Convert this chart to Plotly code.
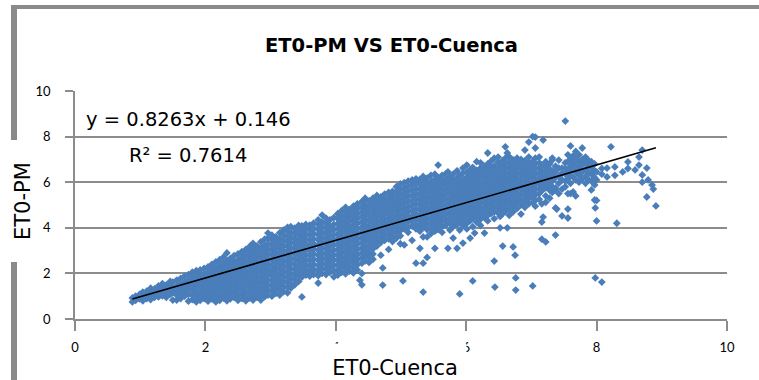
import plotly.graph_objects as go

# ---------------- data ----------------
# each segment: column x positions and the y values seen in that column
seg_a_x = [0.88, 0.93, 0.99, 1.04, 1.10, 1.16, 1.22, 1.28, 1.34, 1.40, 1.46, 1.50, 1.56, 1.62, 1.68, 1.74, 1.80, 1.86, 1.92, 1.98]
seg_a_y = [
    [0.75, 0.92], [0.82, 1.00], [0.88, 1.08], [0.80, 0.98, 1.18], [0.90, 1.10, 1.22],
    [0.85, 1.02, 1.20, 1.35], [0.95, 1.15, 1.32], [0.97, 1.10, 1.27, 1.45], [1.02, 1.22, 1.40, 1.55],
    [0.95, 1.15, 1.35, 1.50], [1.08, 1.28, 1.48, 1.65], [0.83, 1.15, 1.35, 1.62],
    [0.83, 1.05, 1.25, 1.45, 1.70], [0.90, 1.12, 1.32, 1.55, 1.78], [1.00, 1.20, 1.42, 1.62, 1.88],
    [0.78, 1.08, 1.30, 1.52, 1.72, 1.95], [0.85, 1.05, 1.25, 1.45, 1.65, 1.85, 2.05],
    [0.75, 0.95, 1.15, 1.38, 1.58, 1.80, 2.00, 2.12], [0.82, 1.02, 1.22, 1.45, 1.68, 1.90, 2.15],
    [0.90, 1.10, 1.32, 1.55, 1.75, 1.98, 2.22],
]

seg_b_x = [2.04, 2.10, 2.16, 2.22, 2.28, 2.33, 2.38, 2.44, 2.50, 2.56, 2.62, 2.68, 2.73, 2.79, 2.85, 2.91, 2.96]
seg_b_y = [
    [0.78, 0.98, 1.20, 1.40, 1.62, 1.85, 2.05, 2.28],
    [0.88, 1.08, 1.30, 1.52, 1.72, 1.95, 2.18, 2.40],
    [0.75, 0.95, 1.18, 1.40, 1.60, 1.82, 2.05, 2.25, 2.50],
    [0.82, 1.05, 1.28, 1.48, 1.70, 1.92, 2.12, 2.35, 2.60],
    [0.92, 1.12, 1.35, 1.58, 1.80, 2.00, 2.22, 2.45, 2.72],
    [0.80, 1.00, 1.22, 1.45, 1.68, 1.90, 2.10, 2.32, 2.55, 2.90],
    [0.88, 1.10, 1.32, 1.55, 1.75, 1.98, 2.20, 2.42, 2.65],
    [0.95, 1.18, 1.40, 1.62, 1.85, 2.08, 2.30, 2.52, 2.78],
    [0.82, 1.05, 1.28, 1.50, 1.72, 1.95, 2.15, 2.38, 2.60, 2.85],
    [0.90, 1.12, 1.35, 1.58, 1.80, 2.02, 2.25, 2.48, 2.70, 2.95],
    [0.80, 1.00, 1.22, 1.45, 1.68, 1.90, 2.12, 2.35, 2.58, 2.80, 3.05],
    [0.92, 1.15, 1.38, 1.60, 1.82, 2.05, 2.28, 2.50, 2.72, 2.95, 3.18],
    [0.83, 1.05, 1.28, 1.50, 1.72, 1.95, 2.18, 2.40, 2.62, 2.85, 3.08, 3.32],
    [0.95, 1.18, 1.40, 1.62, 1.85, 2.08, 2.30, 2.52, 2.75, 2.98, 3.20],
    [0.83, 1.10, 1.32, 1.55, 1.78, 2.00, 2.22, 2.45, 2.68, 2.90, 3.12, 3.38],
    [0.98, 1.20, 1.42, 1.65, 1.88, 2.10, 2.32, 2.55, 2.78, 3.00, 3.22, 3.50],
    [1.05, 1.28, 1.50, 1.72, 1.95, 2.18, 2.40, 2.62, 2.85, 3.08, 3.30, 3.55, 3.77],
]

seg_c_x = [3.02, 3.08, 3.14, 3.20, 3.26, 3.31, 3.37, 3.43, 3.48, 3.54, 3.60, 3.66, 3.73, 3.79, 3.85, 3.91, 3.97]
seg_c_y = [
    [1.00, 1.22, 1.45, 1.68, 1.90, 2.12, 2.35, 2.58, 2.80, 3.02, 3.25, 3.48, 3.68],
    [1.12, 1.35, 1.58, 1.80, 2.02, 2.25, 2.48, 2.70, 2.92, 3.15, 3.38, 3.60],
    [1.05, 1.28, 1.50, 1.72, 1.95, 2.18, 2.40, 2.62, 2.85, 3.08, 3.30, 3.52, 3.78],
    [1.20, 1.42, 1.65, 1.88, 2.10, 2.32, 2.55, 2.78, 3.00, 3.22, 3.45, 3.68, 3.90],
    [1.15, 1.38, 1.60, 1.82, 2.05, 2.28, 2.50, 2.72, 2.95, 3.18, 3.40, 3.62, 3.85, 4.02],
    [1.36, 1.55, 1.78, 2.00, 2.22, 2.45, 2.68, 2.90, 3.12, 3.35, 3.58, 3.80, 4.05],
    [1.50, 1.72, 1.95, 2.18, 2.40, 2.62, 2.85, 3.08, 3.30, 3.52, 3.75, 3.98],
    [1.65, 1.88, 2.10, 2.32, 2.55, 2.78, 3.00, 3.22, 3.45, 3.68, 3.90, 4.10],
    [0.97, 1.84, 2.05, 2.28, 2.50, 2.72, 2.95, 3.18, 3.40, 3.62, 3.85, 4.08],
    [1.92, 2.15, 2.38, 2.60, 2.82, 3.05, 3.28, 3.50, 3.72, 3.95, 4.15],
    [1.88, 2.10, 2.32, 2.55, 2.78, 3.00, 3.22, 3.45, 3.68, 3.90, 4.12],
    [1.95, 2.18, 2.40, 2.62, 2.85, 3.08, 3.30, 3.52, 3.75, 3.98, 4.20],
    [1.58, 1.90, 2.12, 2.35, 2.58, 2.80, 3.02, 3.25, 3.48, 3.70, 3.92, 4.15, 4.35],
    [2.00, 2.22, 2.45, 2.68, 2.90, 3.12, 3.35, 3.58, 3.80, 4.02, 4.25, 4.56],
    [1.95, 2.18, 2.40, 2.62, 2.85, 3.08, 3.30, 3.52, 3.75, 3.98, 4.20, 4.42],
    [2.05, 2.28, 2.50, 2.72, 2.95, 3.18, 3.40, 3.62, 3.85, 4.08, 4.35],
    [1.85, 2.12, 2.35, 2.58, 2.80, 3.02, 3.25, 3.48, 3.70, 3.92, 4.15, 4.45],
]

seg_d_x = [4.03, 4.09, 4.15, 4.21, 4.27, 4.33, 4.37, 4.40, 4.45, 4.51, 4.57, 4.63, 4.69, 4.72, 4.75, 4.81, 4.87, 4.93, 4.99]
seg_d_y = [
    [1.92, 2.15, 2.38, 2.60, 2.82, 3.05, 3.28, 3.50, 3.72, 3.95, 4.18, 4.40, 4.62],
    [2.05, 2.28, 2.50, 2.72, 2.95, 3.18, 3.40, 3.62, 3.85, 4.08, 4.30, 4.52, 4.75],
    [1.98, 2.20, 2.42, 2.65, 2.88, 3.10, 3.32, 3.55, 3.78, 4.00, 4.22, 4.45, 4.68, 4.90],
    [2.10, 2.32, 2.55, 2.78, 3.00, 3.22, 3.45, 3.68, 3.90, 4.12, 4.35, 4.58, 4.80],
    [2.02, 2.25, 2.48, 2.70, 2.92, 3.15, 3.38, 3.60, 3.82, 4.05, 4.28, 4.50, 4.72, 4.95],
    [2.15, 2.38, 2.60, 2.82, 3.05, 3.28, 3.50, 3.72, 3.95, 4.18, 4.40, 4.62, 4.85, 5.05],
    [1.70],
    [1.50, 2.00, 2.45, 2.68, 2.90, 3.12, 3.35, 3.58, 3.80, 4.02, 4.25, 4.48, 4.70, 4.92, 5.15],
    [2.55, 2.78, 3.00, 3.22, 3.45, 3.68, 3.90, 4.12, 4.35, 4.58, 4.80, 5.02, 5.30],
    [2.48, 2.70, 2.92, 3.15, 3.38, 3.60, 3.82, 4.05, 4.28, 4.50, 4.72, 4.95, 5.18],
    [2.62, 2.85, 3.08, 3.30, 3.52, 3.75, 3.98, 4.20, 4.42, 4.65, 4.88, 5.10, 5.30],
    [3.20, 3.42, 3.65, 3.88, 4.10, 4.32, 4.55, 4.78, 5.00, 5.22, 5.42],
    [2.80, 3.35, 3.58, 3.80, 4.02, 4.25, 4.48, 4.70, 4.92, 5.15, 5.35],
    [1.49, 2.24],
    [3.45, 3.68, 3.90, 4.12, 4.35, 4.58, 4.80, 5.02, 5.25, 5.48],
    [3.05, 3.52, 3.75, 3.98, 4.20, 4.42, 4.65, 4.88, 5.10, 5.32, 5.55],
    [3.40, 3.62, 3.85, 4.08, 4.30, 4.52, 4.75, 4.98, 5.20, 5.42, 5.60],
    [3.55, 3.78, 4.00, 4.22, 4.45, 4.68, 4.90, 5.12, 5.35, 5.58, 5.80],
    [3.30, 3.65, 3.88, 4.10, 4.32, 4.55, 4.78, 5.00, 5.22, 5.45, 5.68, 5.92],
]

seg_e_x = [5.03, 5.05, 5.11, 5.17, 5.23, 5.29, 5.34, 5.40, 5.46, 5.52, 5.57, 5.63, 5.69, 5.72, 5.75, 5.80, 5.86, 5.90, 5.95]
seg_e_y = [
    [1.67],
    [3.25, 3.95, 4.18, 4.40, 4.62, 4.85, 5.08, 5.30, 5.52, 5.75, 5.98],
    [3.80, 4.02, 4.25, 4.48, 4.70, 4.92, 5.15, 5.38, 5.60, 5.82, 6.05],
    [3.45, 4.08, 4.30, 4.52, 4.75, 4.98, 5.20, 5.42, 5.65, 5.88, 6.10],
    [2.45, 3.95, 4.15, 4.38, 4.60, 4.82, 5.05, 5.28, 5.50, 5.72, 5.95, 6.15],
    [3.10, 3.85, 4.10, 4.32, 4.55, 4.78, 5.00, 5.22, 5.45, 5.68, 5.90, 6.12],
    [1.18, 2.45, 3.60, 4.02, 4.25, 4.48, 4.70, 4.92, 5.15, 5.38, 5.60, 5.82, 6.05, 6.25],
    [2.70, 3.60, 3.92, 4.15, 4.38, 4.60, 4.82, 5.05, 5.28, 5.50, 5.72, 5.95, 6.18],
    [3.75, 4.00, 4.22, 4.45, 4.68, 4.90, 5.12, 5.35, 5.58, 5.80, 6.02, 6.30],
    [3.10, 3.85, 4.10, 4.32, 4.55, 4.78, 5.00, 5.22, 5.45, 5.68, 5.90, 6.12, 6.35],
    [3.92, 4.18, 4.40, 4.62, 4.85, 5.08, 5.30, 5.52, 5.75, 5.98, 6.20, 6.75],
    [3.80, 4.05, 4.28, 4.50, 4.72, 4.95, 5.18, 5.40, 5.62, 5.85, 6.08, 6.30],
    [4.12, 4.35, 4.58, 4.80, 5.02, 5.25, 5.48, 5.70, 5.92, 6.15, 6.38],
    [3.10, 6.45],
    [3.90, 4.20, 4.42, 4.65, 4.88, 5.10, 5.32, 5.55, 5.78, 6.00, 6.22],
    [3.55, 4.05, 4.28, 4.50, 4.72, 4.95, 5.18, 5.40, 5.62, 5.85, 6.08, 6.35],
    [3.10, 4.15, 4.38, 4.60, 4.82, 5.05, 5.28, 5.50, 5.72, 5.95, 6.18, 6.50],
    [1.10, 3.90, 4.25, 4.48, 4.70, 4.92, 5.15, 5.38, 5.60, 5.82, 6.05, 6.30],
    [3.33, 4.10, 4.32, 4.55, 4.78, 5.00, 5.22, 5.45, 5.68, 5.90, 6.12, 6.40, 6.62],
]

seg_f_x = [6.01, 6.06, 6.10, 6.13, 6.16, 6.22, 6.28, 6.33, 6.38, 6.43, 6.44, 6.49, 6.52, 6.56, 6.60, 6.63, 6.66, 6.72, 6.75, 6.76, 6.78, 6.84, 6.90, 6.96]
seg_f_y = [
    [3.95, 4.20, 4.42, 4.65, 4.88, 5.10, 5.32, 5.55, 5.78, 6.00, 6.22, 6.45, 6.75],
    [3.55, 4.30, 4.52, 4.75, 4.98, 5.20, 5.42, 5.65, 5.88, 6.10, 6.32, 6.55],
    [1.67, 4.05, 4.40, 4.62, 4.85, 5.08, 5.30, 5.52, 5.75, 5.98, 6.20, 6.42, 6.65],
    [3.77],
    [4.25, 4.50, 4.72, 4.95, 5.18, 5.40, 5.62, 5.85, 6.08, 6.30, 6.52, 6.90],
    [4.10, 4.38, 4.60, 4.82, 5.05, 5.28, 5.50, 5.72, 5.95, 6.18, 6.40, 6.62, 6.85],
    [3.77, 4.45, 4.68, 4.90, 5.12, 5.35, 5.58, 5.80, 6.02, 6.25, 6.48, 6.70],
    [4.30, 4.55, 4.78, 5.00, 5.22, 5.45, 5.68, 5.90, 6.12, 6.35, 6.58, 6.80, 7.28],
    [4.62, 4.85, 5.08, 5.30, 5.52, 5.75, 5.98, 6.20, 6.42, 6.65, 6.92],
    [2.54, 4.40, 4.70, 4.92, 5.15, 5.38, 5.60, 5.82, 6.05, 6.28, 6.50, 6.72, 7.05],
    [1.40],
    [4.65, 4.85, 5.08, 5.30, 5.52, 5.75, 5.98, 6.20, 6.42, 6.65, 6.88, 7.10],
    [4.00, 4.50, 4.78, 5.00, 5.22, 5.45, 5.68, 5.90, 6.12, 6.35, 6.58, 6.80],
    [3.20, 4.62, 4.90, 5.12, 5.35, 5.58, 5.80, 6.02, 6.25, 6.48, 6.70, 6.95],
    [4.72, 5.00, 5.22, 5.45, 5.68, 5.90, 6.12, 6.35, 6.58, 6.80, 7.05, 7.55],
    [4.00, 7.28],
    [4.55, 4.85, 5.08, 5.30, 5.52, 5.75, 5.98, 6.20, 6.42, 6.65, 6.88, 7.12],
    [3.16, 4.70, 4.95, 5.18, 5.40, 5.62, 5.85, 6.08, 6.30, 6.52, 6.75, 6.98],
    [2.80],
    [1.80, 1.27],
    [4.85, 5.08, 5.30, 5.52, 5.75, 5.98, 6.20, 6.42, 6.65, 6.88, 7.06],
    [4.60, 5.00, 5.22, 5.45, 5.68, 5.90, 6.12, 6.35, 6.58, 6.80, 7.00],
    [4.90, 5.15, 5.38, 5.60, 5.82, 6.05, 6.28, 6.50, 6.72, 6.95, 7.41],
    [5.05, 5.28, 5.50, 5.72, 5.95, 6.18, 6.40, 6.62, 6.85, 7.10, 7.76],
]

seg_g_x = [7.02, 7.06, 7.12, 7.16, 7.18, 7.22, 7.28, 7.32, 7.37, 7.39, 7.42, 7.47, 7.52, 7.56, 7.60, 7.64, 7.68, 7.73, 7.78, 7.83, 7.88, 7.92, 7.97, 7.98, 8.00, 8.08, 8.16, 8.22, 8.28, 8.31, 8.40, 8.48, 8.59, 8.65, 8.70, 8.77, 8.79, 8.85, 8.87, 8.91]
seg_g_y = [
    [1.45, 5.10, 5.35, 5.58, 5.80, 6.02, 6.25, 6.48, 6.70, 6.92, 8.00],
    [4.95, 5.20, 5.45, 5.68, 5.90, 6.12, 6.35, 6.58, 6.80, 7.05, 7.50, 7.98],
    [5.25, 5.50, 5.72, 5.95, 6.18, 6.40, 6.62, 6.85, 7.10],
    [3.50, 4.25, 5.05, 5.62, 5.85, 6.08, 6.30, 6.52, 6.75],
    [4.47, 7.85],
    [3.38, 5.12, 5.40, 5.75, 5.98, 6.23, 6.45, 6.68, 6.90],
    [5.30, 5.65, 5.90, 6.12, 6.35, 6.58, 6.80],
    [5.55, 5.80, 6.05, 6.28, 6.50, 6.97, 7.06],
    [3.68, 4.87, 5.66, 5.75, 6.20, 6.45, 6.70],
    [4.82],
    [5.50, 5.95, 6.25, 6.62, 6.97],
    [4.52, 5.70, 6.10, 6.40, 6.62],
    [5.80, 6.05, 6.35, 6.60, 6.85, 8.68],
    [4.43, 4.82, 5.50, 6.15, 6.50, 6.90, 7.20],
    [5.50, 5.95, 6.30, 6.70, 7.00, 7.59],
    [5.57, 6.23, 6.55, 6.85, 7.15],
    [5.40, 6.10, 6.45, 6.72, 7.05, 7.35],
    [6.00, 6.30, 6.60, 6.90, 7.20],
    [6.15, 6.45, 6.75, 7.00, 7.50],
    [5.95, 6.25, 6.55, 6.85, 7.10],
    [6.10, 6.40, 6.70, 6.95],
    [5.66, 6.05, 6.35, 6.62, 6.90],
    [5.22, 5.88, 6.20, 6.50, 6.80],
    [1.80, 4.87],
    [4.30, 5.20, 6.10, 6.45],
    [1.62, 6.35, 6.60],
    [6.23, 6.62],
    [7.55],
    [6.30, 6.67],
    [4.20],
    [6.45],
    [6.89, 6.60],
    [6.54],
    [6.75, 7.10],
    [6.32, 7.41, 6.00],
    [6.62, 5.35],
    [6.10],
    [5.88],
    [5.70],
    [4.96],
]

# trend line as printed on the chart
slope = 0.8263
intercept = 0.146
eq_text = "y = 0.8263x + 0.146"
r2_text = "R² = 0.7614"

title_text = "ET0-PM VS ET0-Cuenca"
x_title = "ET0-Cuenca"
y_title = "ET0-PM"
x_tick_vals = [0, 2, 4, 6, 8, 10]
y_tick_vals = [0, 2, 4, 6, 8, 10]

# ---------------- build ----------------
xs, ys = [], []
for sx, sy in [(seg_a_x, seg_a_y), (seg_b_x, seg_b_y), (seg_c_x, seg_c_y),
               (seg_d_x, seg_d_y), (seg_e_x, seg_e_y), (seg_f_x, seg_f_y),
               (seg_g_x, seg_g_y)]:
    for cx, col in zip(sx, sy):
        for v in col:
            xs.append(cx)
            ys.append(v)

x_lo, x_hi = min(xs), max(xs)
line_x = [x_lo, x_hi]
line_y = [slope * v + intercept for v in line_x]

W, H = 759, 380
L, R, T, B = 75, 32, 91, 61
PW, PH = W - L - R, H - T - B


def px(xp):
    return (xp - L) / PW


def py(yp):
    return (H - B - yp) / PH


TICKFONT = "Lato"
TXT = "DejaVu Sans"
GRID = "#8c8c8c"
BLUE = "#4a7ebb"

fig = go.Figure()
fig.add_trace(go.Scatter(
    x=xs, y=ys, mode="markers",
    marker=dict(symbol="diamond", size=6, color=BLUE, line=dict(width=0)),
    showlegend=False, hoverinfo="skip"))
fig.add_trace(go.Scatter(
    x=line_x, y=line_y, mode="lines",
    line=dict(color="black", width=1.6),
    showlegend=False, hoverinfo="skip"))

fig.update_layout(
    width=W, height=H,
    margin=dict(l=L, r=R, t=T, b=B),
    paper_bgcolor="white", plot_bgcolor="white",
    font=dict(family=TICKFONT, size=13, color="black"),
    xaxis=dict(range=[0, 10], tickvals=x_tick_vals, showgrid=False, zeroline=False,
               showline=True, linecolor=GRID, linewidth=1.5,
               ticks="outside", ticklen=10, tickcolor=GRID, tickwidth=1.5,
               ticklabelstandoff=6, tickfont=dict(size=13, family=TICKFONT)),
    yaxis=dict(range=[0, 10], tickvals=y_tick_vals, showgrid=True, gridcolor=GRID,
               gridwidth=1.5, zeroline=False, showline=True, linecolor=GRID,
               linewidth=1.5, ticks="outside", ticklen=8, tickcolor=GRID,
               tickwidth=1.5, ticklabelstandoff=12, tickfont=dict(size=13, family=TICKFONT)),
)

# frame decorations (gray bars at top and left)
bar = "#8a8a8a"
fig.add_shape(type="rect", xref="paper", yref="paper", x0=px(11), x1=px(W), y0=py(9), y1=py(5),
              fillcolor=bar, line=dict(width=0), layer="above")
fig.add_shape(type="rect", xref="paper", yref="paper", x0=px(11), x1=px(17), y0=py(140), y1=py(5),
              fillcolor=bar, line=dict(width=0), layer="above")
fig.add_shape(type="rect", xref="paper", yref="paper", x0=px(11), x1=px(17), y0=py(H), y1=py(262),
              fillcolor=bar, line=dict(width=0), layer="above")

fig.add_annotation(text=f"<b>{title_text}</b>", xref="paper", yref="paper",
                   x=px(391), y=py(45), showarrow=False, xanchor="center", yanchor="middle",
                   font=dict(family=TXT, size=19.5, color="black"))
fig.add_annotation(text=eq_text, xref="x", yref="y", x=0.14, y=8.73, showarrow=False,
                   xanchor="left", yanchor="middle", font=dict(family=TXT, size=19.5, color="black"))
fig.add_annotation(text=r2_text, xref="x", yref="y", x=0.80, y=7.19, showarrow=False,
                   xanchor="left", yanchor="middle", font=dict(family=TXT, size=19.5, color="black"))
fig.add_annotation(text=y_title, xref="paper", yref="paper", x=px(23), y=py(201), showarrow=False,
                   textangle=-90, xanchor="center", yanchor="middle",
                   font=dict(family=TXT, size=21, color="black"))
fig.add_annotation(text=x_title, xref="paper", yref="paper", x=px(395), y=py(368), showarrow=False,
                   xanchor="center", yanchor="middle", width=140, height=46, bgcolor="white",
                   font=dict(family=TXT, size=21, color="black"))

fig.write_html("out.html")
